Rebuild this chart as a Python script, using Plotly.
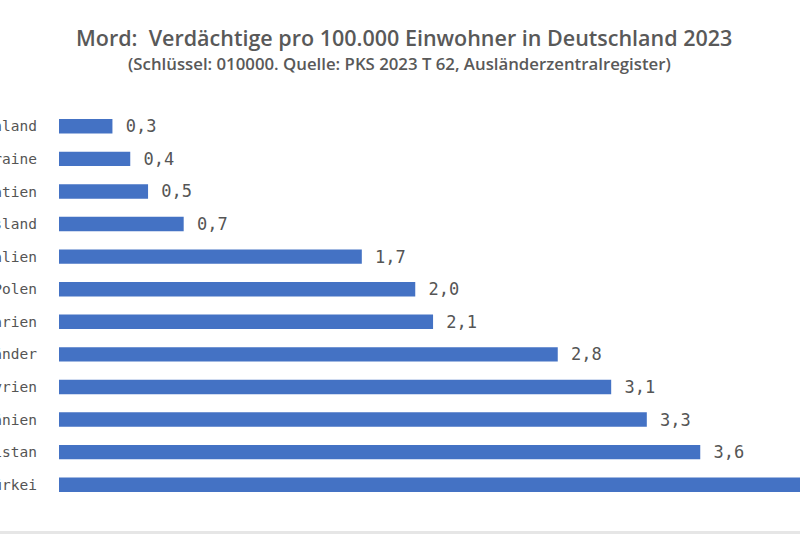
import plotly.graph_objects as go

categories = ["Deutschland", "Ukraine", "Kroatien", "Russland", "Italien", "Polen",
              "Bulgarien", "Alle Ausländer", "Syrien", "Rumänien", "Afghanistan", "Türkei"]
values = [0.3, 0.4, 0.5, 0.7, 1.7, 2.0, 2.1, 2.8, 3.1, 3.3, 3.6, 4.4]
value_labels = ["0,3", "0,4", "0,5", "0,7", "1,7", "2,0", "2,1", "2,8", "3,1", "3,3", "3,6", "4,4"]

title = "Mord:  Verdächtige pro 100.000 Einwohner in Deutschland 2023"
subtitle = "(Schlüssel: 010000. Quelle: PKS 2023 T 62, Ausländerzentralregister)"

L, T, B = 59, 110, 33
W, H = 800, 534
plot_w, plot_h = W - L, H - T - B

fig = go.Figure(go.Bar(
    y=categories, x=values, orientation="h",
    marker=dict(color="#4472C4", line=dict(width=0)),
    text=["\u00a0" + t for t in value_labels],
    textposition="outside",
    constraintext="none",
    cliponaxis=True,
    textfont=dict(family="DejaVu Sans Mono", size=17, color="#555555"),
))

def px_x(px):
    return (px - L) / plot_w

def px_y(py):
    return 1 + (T - py) / plot_h

fig.update_layout(
    width=W, height=H,
    margin=dict(l=L, r=0, t=T, b=B, autoexpand=False),
    paper_bgcolor="white", plot_bgcolor="white",
    bargap=0.56,
    showlegend=False,
    xaxis=dict(range=[0, 4.16], visible=False, fixedrange=True),
    yaxis=dict(autorange="reversed", showgrid=False, zeroline=False, showline=False,
               ticks="", automargin=False, ticklabelstandoff=21, fixedrange=True,
               tickfont=dict(family="DejaVu Sans Mono", size=14.5, color="#555555")),
    annotations=[
        dict(text=title, x=px_x(404), y=px_y(38), xref="paper", yref="paper",
             xanchor="center", yanchor="middle", showarrow=False,
             font=dict(family="Open Sans", size=21.5, color="#595959", weight=600)),
        dict(text=subtitle, x=px_x(399), y=px_y(63), xref="paper", yref="paper",
             xanchor="center", yanchor="middle", showarrow=False,
             font=dict(family="Open Sans", size=16.8, color="#595959", weight=600)),
    ],
    shapes=[dict(type="rect", xref="paper", yref="paper", x0=-0.1, x1=1.1,
                 y0=px_y(534), y1=px_y(531), fillcolor="#e6e6e6", line=dict(width=0))],
)

fig.write_html("out.html", config={"displayModeBar": False},
               post_script="document.body.style.margin='0';")
